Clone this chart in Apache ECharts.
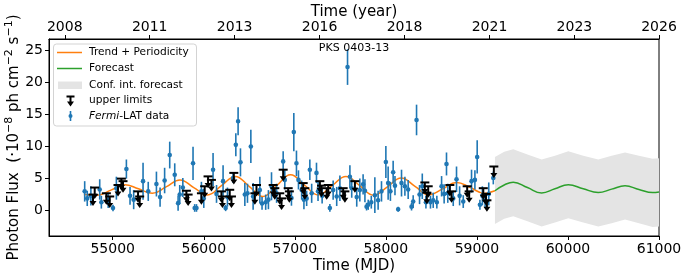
<!DOCTYPE html>
<html><head><meta charset="utf-8">
<script src="https://cdn.jsdelivr.net/npm/echarts@6/dist/echarts.min.js"></script>
<style>html,body{margin:0;padding:0;background:#fff}#c{width:687px;height:278px}</style>
</head><body><div id="c"></div>
<script>
// Fermi-LAT detections
const detMJD = [54692,54720,54760,54857,54875,54950,55003,55040,55150,55190,55230,55333,55390,55480,55520,55570,55626,55681,55718,55736,55770,55882,55900,55920,55974,56000,56102,56140,56212,56240,56260,56322,56352,56377,56403,56451,56480,56517,56542,56616,56640,56680,56710,56744,56800,56872,56890,56963,56989,57018,57040,57075,57100,57130,57165,57185,57238,57255,57300,57385,57421,57460,57495,57579,57605,57625,57680,57714,57750,57770,57788,57806,57840,57879,57915,57952,58000,58025,58050,58080,58100,58135,58172,58209,58245,58282,58300,58337,58370,58400,58440,58490,58520,58560,58612,58640,58666,58680,58740,58776,58810,58850,58941,58978,59003,59033,59060,59090,59130,59180];
const detFlux = [2.9,1.8,2.2,3.2,1.2,1.5,0.3,3.4,6.4,2.2,1.6,4.5,2.9,4.05,2.0,4.6,8.6,5.5,1.05,2.4,3.5,7.3,0.3,0.3,2.9,1.8,6.3,2.5,4.5,0.3,2.0,5.0,10.2,13.9,7.45,2.4,2.6,9.95,2.1,3.1,1.0,1.2,1.6,3.7,2.6,7.6,4.7,1.85,12.2,7.3,4.7,3.1,1.6,1.8,6.3,2.6,5.8,2.9,2.2,0.3,3.1,2.1,3.4,22.4,5.2,3.4,2.0,3.1,4.0,3.0,0.5,0.8,1.2,2.3,1.5,2.9,7.5,4.2,2.9,5.9,3.8,0.1,4.2,3.7,3.2,0.5,1.3,14.1,2.4,3.7,1.2,1.2,1.5,1.2,3.7,2.5,7.2,2.6,1.8,4.8,2.2,1.3,4.5,4.7,8.3,0.8,2.2,1.5,2.5,5.0];
const detErr = [1.6,1.2,1.5,1.6,1.0,1.2,0.5,1.8,1.5,1.4,1.5,2.9,1.5,1.95,1.5,2.0,2.1,1.8,1.2,1.5,1.5,2.6,0.6,0.6,1.5,1.5,2.6,1.4,2.5,0.5,1.5,0.8,1.8,2.2,2.2,1.8,1.5,2.6,2.1,2.1,1.0,1.2,1.5,2.2,1.5,1.6,1.5,1.2,3.0,2.0,1.5,1.5,1.5,1.2,1.6,1.5,1.6,1.5,1.2,0.6,1.5,1.5,2.0,2.8,1.8,1.5,1.5,1.8,1.6,1.8,0.6,0.8,1.0,2.8,1.5,1.6,2.5,2.6,1.5,1.8,1.5,0.4,2.1,1.5,1.5,0.6,1.0,2.4,1.5,2.0,1.0,1.0,1.2,1.0,1.6,1.5,1.8,1.5,1.2,2.0,1.5,1.0,1.8,1.5,2.6,0.8,1.5,1.2,1.8,1.0];

// upper limits
const ulMJD = [54783,54802,54930,54967,55058,55095,55113,55278,55296,55809,55828,55974,56010,56047,56084,56194,56205,56285,56304,56330,56561,56579,56762,56780,56835,56854,56872,56927,56940,57092,57110,57275,57293,57350,57367,57531,57550,57660,58428,58450,58465,58703,58721,58893,58915,59070,59100,59110,59186];
const ulFlux = [2.4,3.5,2.6,2.1,3.9,4.9,4.5,2.9,2.1,3.0,2.4,2.6,3.7,5.25,4.7,2.9,2.1,3.15,2.1,5.8,2.6,3.9,3.9,3.4,2.6,1.8,6.3,3.4,2.9,4.2,3.4,4.5,3.8,3.4,3.9,3.4,2.9,4.5,4.3,2.7,3.7,3.9,2.9,3.7,2.9,3.4,2.5,1.5,6.8];

// trend + periodicity model
const trendMJD = [54683,54830,54980,55131,55283,55435,55586,55738,55890,56042,56194,56346,56498,56650,56800,56953,57105,57257,57409,57561,57713,57865,58017,58168,58320,58472,58624,58776,58928,59080,59198];
const trendFlux = [2.4,2.3,3.1,3.95,3.3,2.6,3.6,4.7,3.5,2.35,3.8,5.25,3.7,2.1,3.8,5.5,3.9,2.35,3.8,5.25,3.8,2.3,3.6,5.0,3.7,2.35,3.3,4.3,3.5,2.6,3.0];

// forecast and confidence interval
const fcMJD = [59198,59300,59399,59555,59711,59857,60004,60168,60333,60480,60627,60780,60930,61000];
const fcFlux = [3.0,3.9,4.35,3.5,2.65,3.3,3.93,3.3,2.72,3.25,3.77,3.2,2.72,2.8];
const fcLow = [-2.2,-1.4,-1.0,-1.8,-2.6,-2.0,-1.3,-2.0,-2.6,-2.1,-1.5,-2.1,-2.7,-2.6];
const fcHigh = [8.3,9.1,9.5,8.7,7.9,8.5,9.2,8.5,7.9,8.5,9.0,8.5,8.0,8.1];

// axes ticks
const mjdTicks = [55000,56000,57000,58000,59000,60000,61000];
const fluxTicks = [0,5,10,15,20,25];
const yearTickMJD = [54473,55406,56339,57272,58205,59138,60071,61000];
const yearTickLabels = ['2008','2011','2013','2016','2018','2021','2023','2026'];

const FONT = 'DejaVu Sans';
const X_MIN = 54300, X_MAX = 61000, Y_MIN = -4.1, Y_MAX = 26.8;

const chart = echarts.init(document.getElementById('c'), null, {renderer: 'canvas'});

const axisCommon = {
  axisLine: {show: true, onZero: false, lineStyle: {color: '#000', width: 1}},
  axisTick: {show: true, inside: false, length: 4, lineStyle: {color: '#000', width: 1}},
  splitLine: {show: false},
  nameMoveOverlap: false,
  axisLabel: {color: '#000', fontSize: 14, fontFamily: FONT},
  nameTextStyle: {color: '#000', fontSize: 15, fontFamily: FONT}
};

const option = {
  animation: false,
  backgroundColor: '#fff',
  grid: {left: 49, right: 28, top: 39, bottom: 42, containLabel: false, outerBoundsMode: 'none',
    show: true, borderColor: '#000', borderWidth: 1, backgroundColor: 'transparent'},
  xAxis: [
    Object.assign({}, axisCommon, {
      type: 'value', position: 'bottom', min: X_MIN, max: X_MAX,
      name: 'Time (MJD)', nameLocation: 'middle', nameGap: 23,
      axisTick: Object.assign({}, axisCommon.axisTick, {customValues: mjdTicks}),
      axisLabel: Object.assign({}, axisCommon.axisLabel, {customValues: mjdTicks, margin: 6, formatter: v => String(v)})
    }),
    Object.assign({}, axisCommon, {
      type: 'value', position: 'top', min: X_MIN, max: X_MAX,
      name: 'Time (year)', nameLocation: 'middle', nameGap: 19.5,
      axisTick: Object.assign({}, axisCommon.axisTick, {customValues: yearTickMJD}),
      axisLabel: Object.assign({}, axisCommon.axisLabel, {customValues: yearTickMJD, margin: 5,
        formatter: v => { const i = yearTickMJD.indexOf(v); return i >= 0 ? yearTickLabels[i] : ''; }})
    })
  ],
  yAxis: Object.assign({}, axisCommon, {
    type: 'value', min: Y_MIN, max: Y_MAX,
    name: 'Photon Flux  (·10{s|−8} ph cm{s|−2} s{s|−1})', nameLocation: 'middle', nameGap: 25,
    nameTextStyle: {color: '#000', fontSize: 15, fontFamily: FONT, lineHeight: 20,
      rich: {s: {fontSize: 11, fontFamily: FONT, color: '#000', verticalAlign: 'top', lineHeight: 12}}},
    axisTick: Object.assign({}, axisCommon.axisTick, {customValues: fluxTicks}),
    axisLabel: Object.assign({}, axisCommon.axisLabel, {customValues: fluxTicks, margin: 6})
  }),
  series: [
    {
      type: 'custom', name: 'Conf. int. forecast', z: 1, silent: true,
      encode: {x: 0, y: [1, 2]},
      data: fcMJD.map((m, i) => [m, fcLow[i], fcHigh[i]]),
      renderItem: (params, api) => {
        if (params.dataIndex !== 0) return null;
        const upper = fcMJD.map((m, i) => api.coord([m, fcHigh[i]]));
        const lower = fcMJD.map((m, i) => api.coord([m, fcLow[i]])).reverse();
        return {type: 'polygon', shape: {points: upper.concat(lower)}, style: {fill: '#e4e4e4'}};
      }
    },
    {
      type: 'line', name: 'Trend + Periodicity', smooth: 0.45,
      data: trendMJD.map((m, i) => [m, trendFlux[i]]),
      showSymbol: false, lineStyle: {color: '#ff7f0e', width: 1.5}, z: 2
    },
    {
      type: 'line', name: 'Forecast', smooth: 0.45,
      data: fcMJD.map((m, i) => [m, fcFlux[i]]),
      showSymbol: false, lineStyle: {color: '#2ca02c', width: 1.5}, z: 2
    },
    {
      type: 'custom', name: 'Fermi-LAT data', z: 3,
      encode: {x: 0, y: 1},
      data: detMJD.map((m, i) => [m, detFlux[i], detErr[i]]),
      renderItem: (params, api) => {
        const x = api.value(0), y = api.value(1), e = api.value(2);
        const p = api.coord([x, y]);
        const t = api.coord([x, y + e]);
        const b = api.coord([x, y - e]);
        return {type: 'group', children: [
          {type: 'line', shape: {x1: p[0], y1: t[1], x2: p[0], y2: b[1]}, style: {stroke: '#1f77b4', lineWidth: 1.6}},
          {type: 'circle', shape: {cx: p[0], cy: p[1], r: 2.3}, style: {fill: '#1f77b4'}}
        ]};
      }
    },
    {
      type: 'custom', name: 'upper limits', z: 4,
      encode: {x: 0, y: 1},
      data: ulMJD.map((m, i) => [m, ulFlux[i]]),
      renderItem: (params, api) => {
        const p = api.coord([api.value(0), api.value(1)]);
        return {type: 'group', children: [
          {type: 'line', shape: {x1: p[0] - 4.5, y1: p[1], x2: p[0] + 4.5, y2: p[1]}, style: {stroke: '#000', lineWidth: 2}},
          {type: 'line', shape: {x1: p[0], y1: p[1], x2: p[0], y2: p[1] + 8}, style: {stroke: '#000', lineWidth: 2}},
          {type: 'polygon', shape: {points: [[p[0] - 3.5, p[1] + 6.5], [p[0] + 3.5, p[1] + 6.5], [p[0], p[1] + 11.5]]}, style: {fill: '#000'}}
        ]};
      }
    }
  ],
  graphic: [
    {type: 'text', x: 354, y: 48.5, z: 10, style: {text: 'PKS 0403-13', fill: '#000', font: '11px "DejaVu Sans"', align: 'center', verticalAlign: 'middle'}},
    {type: 'group', z: 20, children: [
      {type: 'rect', shape: {x: 53.5, y: 44, width: 143, height: 82, r: 3}, style: {fill: 'rgba(255,255,255,0.8)', stroke: '#d3d3d3', lineWidth: 1}},
      {type: 'line', shape: {x1: 57, y1: 52.5, x2: 82, y2: 52.5}, style: {stroke: '#ff7f0e', lineWidth: 1.5}},
      {type: 'text', x: 89, y: 52.5, style: {text: 'Trend + Periodicity', fill: '#000', font: '10.6px "DejaVu Sans"', verticalAlign: 'middle'}},
      {type: 'line', shape: {x1: 57, y1: 68.5, x2: 82, y2: 68.5}, style: {stroke: '#2ca02c', lineWidth: 1.5}},
      {type: 'text', x: 89, y: 68.5, style: {text: 'Forecast', fill: '#000', font: '10.6px "DejaVu Sans"', verticalAlign: 'middle'}},
      {type: 'rect', shape: {x: 58, y: 81.5, width: 24, height: 7.5}, style: {fill: '#e4e4e4'}},
      {type: 'text', x: 89, y: 85, style: {text: 'Conf. int. forecast', fill: '#000', font: '10.6px "DejaVu Sans"', verticalAlign: 'middle'}},
      {type: 'line', shape: {x1: 66.5, y1: 96.5, x2: 74.5, y2: 96.5}, style: {stroke: '#000', lineWidth: 2}},
      {type: 'line', shape: {x1: 70.5, y1: 96.5, x2: 70.5, y2: 103}, style: {stroke: '#000', lineWidth: 2}},
      {type: 'polygon', shape: {points: [[67, 101.5], [74, 101.5], [70.5, 106.5]]}, style: {fill: '#000'}},
      {type: 'text', x: 89, y: 100.7, style: {text: 'upper limits', fill: '#000', font: '10.6px "DejaVu Sans"', verticalAlign: 'middle'}},
      {type: 'line', shape: {x1: 70.5, y1: 111, x2: 70.5, y2: 121}, style: {stroke: '#1f77b4', lineWidth: 1.6}},
      {type: 'circle', shape: {cx: 70.5, cy: 116, r: 2}, style: {fill: '#1f77b4'}},
      {type: 'text', x: 89, y: 116, style: {
        text: '{i|Fermi}-LAT data', fill: '#000', font: '10.6px "DejaVu Sans"', verticalAlign: 'middle',
        rich: {i: {fontStyle: 'italic', fontFamily: 'DejaVu Sans', fontSize: 10.6, fill: '#000'}}
      }}
    ]}
  ]
};
chart.setOption(option);
</script>
</body></html>
